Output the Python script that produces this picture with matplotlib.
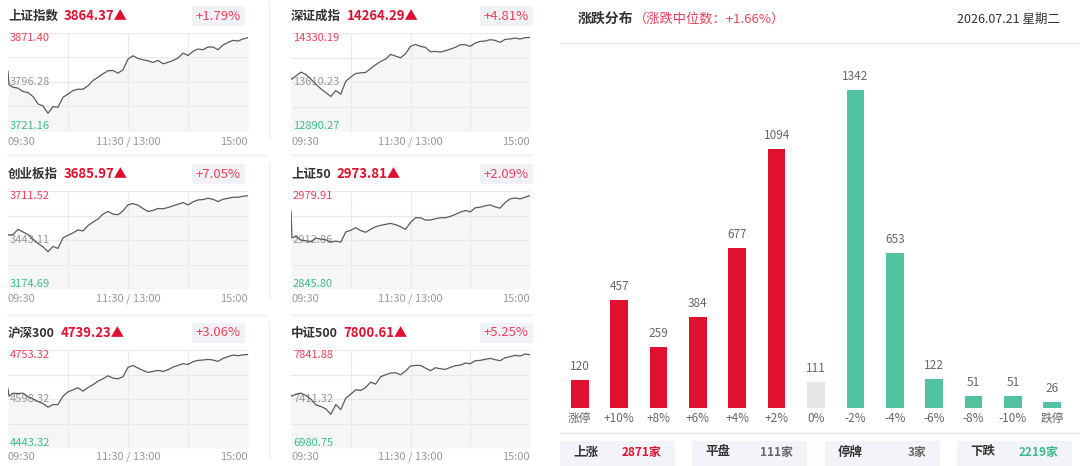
import matplotlib

matplotlib.use("Agg")
import matplotlib.pyplot as plt
from matplotlib.patches import Rectangle
import numpy as np

plt.rcParams["font.family"] = ["Noto Sans CJK SC", "DejaVu Sans"]

# ---- intraday index panels ----
index_names = ["上证指数", "深证成指", "创业板指", "上证50", "沪深300", "中证500"]
last_prices = [3864.37, 14264.29, 3685.97, 2973.81, 4739.23, 7800.61]
pct_changes = [1.79, 4.81, 7.05, 2.09, 3.06, 5.25]
axis_top = [3871.40, 14330.19, 3711.52, 2979.91, 4753.32, 7841.88]
axis_mid = [3796.28, 13610.23, 3443.11, 2912.86, 4598.32, 7411.32]
axis_bottom = [3721.16, 12890.27, 3174.69, 2845.80, 4443.32, 6980.75]
time_labels = ["09:30", "11:30 / 13:00", "15:00"]

# trading minutes since 09:30 (lunch break removed)
minutes = [0, 1] + list(range(5, 241, 5))

sh_curve = [3812.4, 3792.0, 3788.3, 3786.8, 3781.7, 3780.1, 3774.0, 3762.7, 3759.6, 3748.3,
            3758.6, 3757.6, 3772.9, 3777.6, 3783.2, 3785.2, 3785.2, 3790.4, 3798.6, 3803.7,
            3808.8, 3813.5, 3814.0, 3809.9, 3815.0, 3831.4, 3836.5, 3832.4, 3830.4, 3828.8,
            3826.3, 3829.4, 3824.2, 3826.3, 3829.4, 3832.9, 3840.6, 3837.0, 3843.2, 3846.8,
            3845.8, 3849.9, 3849.9, 3845.8, 3852.9, 3857.0, 3860.1, 3859.1, 3862.2, 3864.37]
sz_curve = [13666.8, 13652.1, 13701.2, 13755.3, 13720.9, 13652.1, 13578.4, 13509.6, 13455.5, 13396.5,
            13485.0, 13430.9, 13622.6, 13681.6, 13735.6, 13745.4, 13750.3, 13809.3, 13863.4, 13912.5,
            13946.9, 14015.7, 13991.1, 13966.6, 14025.5, 14133.6, 14163.1, 14133.6, 14118.9, 14055.0,
            14059.9, 14050.1, 14069.8, 14094.3, 14118.9, 14158.2, 14158.2, 14133.6, 14182.8, 14207.3,
            14212.3, 14231.9, 14222.1, 14192.6, 14236.8, 14241.7, 14256.5, 14241.7, 14261.4, 14264.29]
cyb_curve = [3472.9, 3469.3, 3472.9, 3501.8, 3487.4, 3472.9, 3447.6, 3424.1, 3406.0, 3378.9,
             3407.8, 3397.0, 3454.8, 3469.3, 3481.9, 3498.2, 3492.8, 3521.7, 3541.6, 3557.9,
             3585.0, 3599.4, 3585.0, 3581.4, 3603.0, 3635.6, 3642.8, 3633.8, 3615.7, 3599.4,
             3604.9, 3615.7, 3613.9, 3621.1, 3630.2, 3639.2, 3648.2, 3635.6, 3651.9, 3662.7,
             3664.5, 3671.7, 3666.3, 3653.7, 3666.3, 3671.7, 3677.2, 3677.2, 3682.6, 3685.97]
sz50_curve = [2951.9, 2915.8, 2917.6, 2912.6, 2911.7, 2910.8, 2915.3, 2914.0, 2913.1, 2909.9,
              2911.3, 2909.9, 2923.9, 2926.2, 2929.8, 2925.7, 2923.4, 2927.5, 2931.1, 2932.9,
              2934.3, 2935.6, 2933.8, 2931.1, 2927.5, 2937.0, 2943.3, 2943.3, 2940.2, 2940.2,
              2942.0, 2943.3, 2943.3, 2945.1, 2947.8, 2951.0, 2953.3, 2951.4, 2956.9, 2957.8,
              2959.6, 2960.9, 2958.2, 2956.4, 2964.1, 2969.1, 2970.4, 2969.1, 2971.3, 2973.81]
hs300_curve = [4631.6, 4607.3, 4616.8, 4615.8, 4616.8, 4605.2, 4598.8, 4590.4, 4584.0, 4572.4,
               4580.8, 4580.8, 4607.3, 4621.0, 4627.4, 4633.7, 4623.2, 4634.8, 4643.3, 4654.9,
               4662.3, 4671.8, 4664.4, 4662.3, 4668.7, 4698.3, 4704.6, 4696.2, 4688.8, 4682.4,
               4685.6, 4688.8, 4685.6, 4690.9, 4699.3, 4704.6, 4709.9, 4707.8, 4716.3, 4720.5,
               4721.6, 4723.7, 4721.6, 4717.3, 4726.8, 4732.1, 4737.4, 4735.3, 4738.0, 4739.23]
zz500_curve = [7445.1, 7436.3, 7454.0, 7462.8, 7442.2, 7409.9, 7359.9, 7345.2, 7324.6, 7277.6,
               7362.8, 7318.8, 7418.7, 7454.0, 7492.2, 7486.3, 7512.7, 7559.8, 7542.1, 7606.8,
               7624.4, 7639.1, 7642.0, 7624.4, 7656.7, 7700.8, 7706.7, 7706.7, 7683.2, 7659.7,
               7686.1, 7677.3, 7671.4, 7689.1, 7703.8, 7709.6, 7727.3, 7721.4, 7747.9, 7750.8,
               7759.6, 7768.4, 7756.7, 7747.9, 7774.3, 7783.1, 7794.9, 7789.0, 7806.6, 7800.61]

# ---- advance / decline distribution ----
dist_title = "涨跌分布"
dist_median = "（涨跌中位数：+1.66%）"
dist_date = "2026.07.21 星期二"
bucket_labels = ["涨停", "+10%", "+8%", "+6%", "+4%", "+2%", "0%",
                 "-2%", "-4%", "-6%", "-8%", "-10%", "跌停"]
bucket_counts = [120, 457, 259, 384, 677, 1094, 111, 1342, 653, 122, 51, 51, 26]
summary_labels = ["上涨", "平盘", "停牌", "下跌"]
summary_counts = [2871, 111, 3, 2219]

RED = "#e0102f"
RED_LIGHT = "#f0405a"
GREEN = "#52c3a0"
GREEN_TXT = "#3dbb8e"
DARK = "#333333"
GRAY = "#999999"
GRID = "#e9e9e9"

W, H = 1080, 466
fig = plt.figure(figsize=(W / 100, H / 100), dpi=100)


def px_axes(x0, y0, x1, y1):
    return fig.add_axes([x0 / W, 1 - y1 / H, (x1 - x0) / W, (y1 - y0) / H])


ov = px_axes(0, 0, W, H)
ov.set_xlim(0, W)
ov.set_ylim(H, 0)
ov.axis("off")

curves = [sh_curve, sz_curve, cyb_curve, sz50_curve, hs300_curve, zz500_curve]
col_left = [8, 291]
col_right = [248, 530]
box_right = [245, 533]
row_top = [33, 191, 350]
row_head = [16, 174, 333]
row_time = [142, 299, 457]
plot_h = 98

for i, name in enumerate(index_names):
    r, c = divmod(i, 2)
    x0, x1 = col_left[c], col_right[c]
    y0 = row_top[r]
    ax = px_axes(x0, y0, x1, y0 + plot_h)
    lo, mid, hi = axis_bottom[i], axis_mid[i], axis_top[i]
    ax.set_xlim(0, 240)
    ax.set_ylim(lo, hi)
    ax.axis("off")
    ax.fill_between(minutes, curves[i], lo, color="#f6f6f6", lw=0, zorder=1)
    for k in range(5):
        ax.axhline(lo + (hi - lo) * k / 4, color=GRID, lw=0.8, zorder=2)
    for m in (60, 120, 180):
        ax.axvline(m, color=GRID, lw=0.8, zorder=2)
    ax.plot(minutes, curves[i], color="#5a5a5a", lw=0.9, zorder=4)
    ax.annotate(f"{hi:.2f}", xy=(0, hi), xytext=(2, 0), textcoords="offset pixels",
                ha="left", va="top", fontsize=8, color=RED_LIGHT, zorder=3)
    ax.annotate(f"{mid:.2f}", xy=(0, mid), xytext=(2, 0), textcoords="offset pixels",
                ha="left", va="center", fontsize=8, color=GRAY, zorder=3)
    ax.annotate(f"{lo:.2f}", xy=(0, lo), xytext=(2, 0), textcoords="offset pixels",
                ha="left", va="bottom", fontsize=8, color=GREEN_TXT, zorder=3)

    # header
    yh = row_head[r]
    t = ov.text(x0, yh, name, ha="left", va="center", fontsize=9, fontweight="bold", color=DARK)
    ov.annotate(f"{last_prices[i]:.2f}▲", xy=(1, 0.5), xycoords=t, xytext=(6, 0),
                textcoords="offset pixels", ha="left", va="center",
                fontsize=9.5, fontweight="bold", color=RED)
    ov.text(box_right[c] - 4, yh, f"+{pct_changes[i]:.2f}%", ha="right", va="center",
            fontsize=9.5, color=RED_LIGHT,
            bbox=dict(facecolor="#f1f2f6", edgecolor="none", boxstyle="square,pad=0.3"))

    # time axis labels
    yt = row_time[r]
    ov.text(x0, yt, time_labels[0], ha="left", va="center", fontsize=8, color=GRAY)
    ov.text((x0 + x1) / 2, yt, time_labels[1], ha="center", va="center", fontsize=8, color=GRAY)
    ov.text(x1, yt, time_labels[2], ha="right", va="center", fontsize=8, color=GRAY)

# separators of the left block
for ys in (155, 315):
    ov.plot([7, 267], [ys, ys], color="#eeeeee", lw=1)
    ov.plot([290, 533], [ys, ys], color="#eeeeee", lw=1)
for ya, yb in ((2, 138), (163, 298), (322, 458)):
    ov.plot([269, 269], [ya, yb], color="#eeeeee", lw=1)

# ---- right block: distribution ----
t = ov.text(578, 19, dist_title, ha="left", va="center", fontsize=10, fontweight="bold", color=DARK)
ov.annotate(dist_median, xy=(1, 0.5), xycoords=t, xytext=(0, 0), textcoords="offset pixels",
            ha="left", va="center", fontsize=9.5, color=RED_LIGHT)
ov.text(1060, 19, dist_date, ha="right", va="center", fontsize=9, color=DARK)
ov.plot([560, 1080], [43, 43], color="#e8e8e8", lw=1)
ov.plot([560, 1080], [433, 433], color="#e8e8e8", lw=1)

bax = px_axes(560, 60, 1072, 408)
xs = np.arange(len(bucket_labels))
bar_colors = [RED] * 6 + ["#e6e6e6"] + [GREEN] * 6
bars = bax.bar(xs, bucket_counts, width=0.45, color=bar_colors)
bax.set_xlim(-0.5, len(bucket_labels) - 0.5)
bax.set_ylim(0, max(bucket_counts) * (408 - 60) / (408 - 90))
for s in bax.spines.values():
    s.set_visible(False)
bax.set_yticks([])
bax.set_xticks(xs)
bax.set_xticklabels(bucket_labels, fontsize=8.5, color="#666666")
bax.tick_params(axis="x", length=0, pad=3)
bax.patch.set_visible(False)
for b, v in zip(bars, bucket_counts):
    bax.annotate(str(v), xy=(b.get_x() + b.get_width() / 2, v), xytext=(0, 5),
                 textcoords="offset points", ha="center", va="bottom",
                 fontsize=8.5, color="#666666")

box_x = [560, 692, 825, 957]
count_colors = [RED, "#666666", "#666666", GREEN_TXT]
for bx, lab, cnt, cc in zip(box_x, summary_labels, summary_counts, count_colors):
    ov.add_patch(Rectangle((bx, 441), 115, 26, facecolor="#f2f4f9", edgecolor="none"))
    ov.text(bx + 13, 452, lab, ha="left", va="center", fontsize=9, fontweight="bold", color=DARK)
    ov.text(bx + 101, 452, f"{cnt}家", ha="right", va="center", fontsize=8.5,
            fontweight="bold", color=cc)

fig.savefig("out.png", dpi=100)
